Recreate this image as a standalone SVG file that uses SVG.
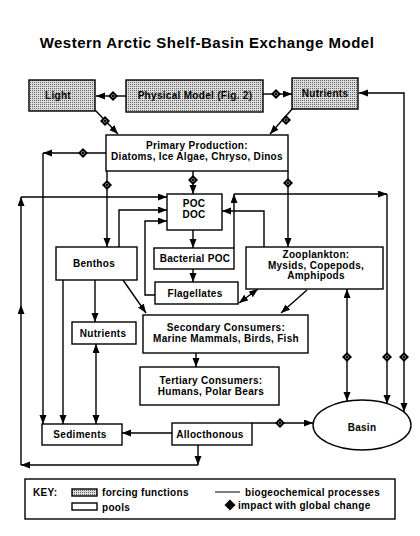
<svg xmlns="http://www.w3.org/2000/svg" width="420" height="536" viewBox="0 0 420 536">
<style>
.box{fill:#fff;stroke:#000;stroke-width:1.4}
.force{fill:url(#stip);stroke:#000;stroke-width:1.4}
.ln{fill:none;stroke:#000;stroke-width:1.4}
.a{marker-end:url(#arr)}
.b{marker-start:url(#arrs);marker-end:url(#arr)}
text{font-family:"Liberation Sans",Arial,sans-serif;font-weight:bold;font-size:10px;letter-spacing:0.3px;text-anchor:middle;fill:#000}
.st{text-anchor:start}
.title{font-size:15px;letter-spacing:0.5px}
</style>
<defs>
<pattern id="stip" width="2" height="2" patternUnits="userSpaceOnUse">
<rect width="2" height="2" fill="#dcdcdc"/>
<rect width="1" height="1" fill="#666"/>
</pattern>
<marker id="arr" markerUnits="userSpaceOnUse" markerWidth="10" markerHeight="8" refX="9" refY="3.5" orient="auto">
<path d="M0,0 L9,3.5 L0,7 z" fill="#000"/>
</marker>
<marker id="arrs" markerUnits="userSpaceOnUse" markerWidth="10" markerHeight="8" refX="9" refY="3.5" orient="auto-start-reverse">
<path d="M0,0 L9,3.5 L0,7 z" fill="#000"/>
</marker>
<g id="dia">
<path d="M0,-5 L5,0 L0,5 L-5,0 z" fill="#000"/>
<circle r="1.6" fill="none" stroke="#999" stroke-width="0.7"/>
</g>
</defs>

<text class="title" x="207" y="48">Western Arctic Shelf-Basin Exchange Model</text>

<g id="connectors">
<path class="ln a" d="M126,96 H96"/>
<path class="ln a" d="M263,94 H292"/>
<path class="ln a" d="M95,110 L118,134"/>
<path class="ln a" d="M293,108 L270,134"/>
<path class="ln b" d="M404,412 V93 H359"/>
<path class="ln a" d="M106,153 H43"/>
<path class="ln a" d="M43,153 V424"/>
<path class="ln a" d="M107,171 V247"/>
<path class="ln a" d="M193,171 V194"/>
<path class="ln a" d="M288,171 V247"/>
<path class="ln a" d="M198,445 V465"/>
<path class="ln a" d="M198,465 H21"/>
<path class="ln a" d="M21,465 V305"/>
<path class="ln a" d="M21,305 V197"/>
<path class="ln a" d="M21,197 H167"/>
<path class="ln a" d="M119,247 V210 H167"/>
<path class="ln a" d="M155,295 H145 V221 H167"/>
<path class="ln a" d="M193,230 V248"/>
<path class="ln a" d="M193,269 V282"/>
<path class="ln a" d="M234,248 V194"/>
<path class="ln a" d="M234,194 H387"/>
<path class="ln a" d="M387,194 V404"/>
<path class="ln a" d="M264,247 V211 H222"/>
<path class="ln b" d="M239,303 L258,289"/>
<path class="ln a" d="M123,280 L146,313"/>
<path class="ln a" d="M307,290 L281,313"/>
<path class="ln a" d="M63,280 V424"/>
<path class="ln a" d="M95,280 V322"/>
<path class="ln b" d="M96,344 V424"/>
<path class="ln a" d="M196,353 V367"/>
<path class="ln b" d="M347,289 V401"/>
<path class="ln a" d="M172,433 H122"/>
<path class="ln a" d="M252,423 H313"/>
<use href="#dia" x="113" y="96"/>
<use href="#dia" x="276" y="94"/>
<use href="#dia" x="105" y="121"/>
<use href="#dia" x="286" y="120"/>
<use href="#dia" x="83" y="153"/>
<use href="#dia" x="107" y="185"/>
<use href="#dia" x="193" y="180"/>
<use href="#dia" x="288" y="183"/>
<use href="#dia" x="347" y="357"/>
<use href="#dia" x="387" y="357"/>
<use href="#dia" x="404" y="357"/>
<use href="#dia" x="280" y="423"/>
</g>

<g id="light"><rect class="force" x="29" y="80" width="66" height="31"/><text x="58" y="99">Light</text></g>
<g id="physical"><rect class="force" x="126" y="80" width="137" height="32"/><text x="195" y="99">Physical Model (Fig. 2)</text></g>
<g id="nutrients-top"><rect class="force" x="292" y="78" width="66" height="31"/><text x="325" y="97">Nutrients</text></g>
<g id="primary"><rect class="box" x="106" y="135" width="182" height="36"/><text x="197" y="149">Primary Production:</text><text x="197" y="160">Diatoms, Ice Algae, Chryso, Dinos</text></g>
<g id="poc"><rect class="box" x="167" y="194" width="55" height="36"/><text x="194" y="207">POC</text><text x="194" y="218">DOC</text></g>
<g id="benthos"><rect class="box" x="56" y="247" width="81" height="33"/><text x="94" y="267">Benthos</text></g>
<g id="bacterial"><rect class="box" x="154" y="248" width="80" height="21"/><text x="195" y="262">Bacterial POC</text></g>
<g id="flagellates"><rect class="box" x="155" y="282" width="83" height="22"/><text x="195" y="296.5">Flagellates</text></g>
<g id="zooplankton"><rect class="box" x="246" y="247" width="137" height="42"/><text x="316" y="258">Zooplankton:</text><text x="316" y="268.5">Mysids, Copepods,</text><text x="316" y="279">Amphipods</text></g>
<g id="nutrients-low"><rect class="box" x="72" y="322" width="64" height="22"/><text x="103" y="336.5">Nutrients</text></g>
<g id="secondary"><rect class="box" x="143" y="315" width="165" height="38"/><text x="226" y="331">Secondary Consumers:</text><text x="226" y="342">Marine Mammals, Birds, Fish</text></g>
<g id="tertiary"><rect class="box" x="140" y="367" width="139" height="38"/><text x="211" y="384">Tertiary Consumers:</text><text x="211" y="395">Humans, Polar Bears</text></g>
<g id="sediments"><rect class="box" x="42" y="424" width="80" height="21"/><text x="80" y="437.5">Sediments</text></g>
<g id="allocthonous"><rect class="box" x="172" y="423" width="80" height="22"/><text x="210" y="437.5">Allocthonous</text></g>
<g id="basin"><ellipse class="box" cx="362" cy="425" rx="49" ry="25"/><text x="362" y="431">Basin</text></g>

<g id="key">
<rect x="25" y="479" width="370" height="40" fill="#fff" stroke="#000" stroke-width="1.4"/>
<text class="st" x="33" y="496">KEY:</text>
<rect class="force" x="72" y="489" width="25" height="7" stroke-width="1"/>
<text class="st" x="102" y="496">forcing functions</text>
<rect class="box" x="72" y="503" width="25" height="7" stroke-width="1"/>
<text class="st" x="102" y="511">pools</text>
<line x1="215" y1="492" x2="240" y2="492" stroke="#000" stroke-width="1"/>
<text class="st" x="245" y="496">biogeochemical processes</text>
<path d="M230,499.5 L235.5,505 L230,510.5 L224.5,505 z" fill="#000"/>
<text class="st" x="238" y="509">impact with global change</text>
</g>
</svg>
